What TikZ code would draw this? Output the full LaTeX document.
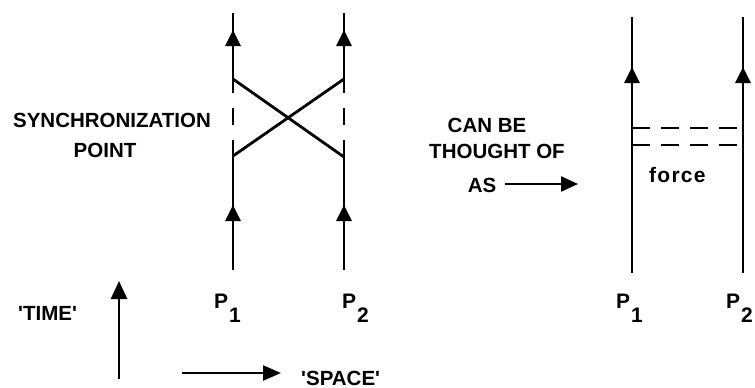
\documentclass[tikz,border=0pt]{standalone}
\usepackage{fontspec}
\setmainfont{Liberation Sans}
\usetikzlibrary{arrows.meta}
\begin{document}
\begin{tikzpicture}[x=1pt,y=-1pt,
  wl/.style={line width=2.8pt},
  tipup/.style={line width=2.8pt,-{Triangle[length=16pt,width=15pt]}},
  dsh/.style={line width=2.6pt,dash pattern=on 18pt off 11pt},
  lbl/.style={inner sep=0pt,font=\fontsize{20.5}{24}\selectfont\bfseries},
  plbl/.style={inner sep=0pt,anchor=base west,font=\fontsize{21}{24}\selectfont\bfseries}]
\useasboundingbox (0,0) rectangle (755,388);
% ---------- left diagram ----------
\foreach \n/\x in {a/233,b/344}{
  \coordinate (\n top) at (\x,13);
  \coordinate (\n hi) at (\x,93);
  \coordinate (\n dA) at (\x,108);
  \coordinate (\n dB) at (\x,125);
  \coordinate (\n lo) at (\x,140);
  \coordinate (\n bot) at (\x,270);
  \coordinate (\n ta) at (\x,47);
  \coordinate (\n tb) at (\x,30);
  \coordinate (\n ba) at (\x,222);
  \coordinate (\n bb) at (\x,205);
  \draw[wl] (\n top) -- (\n hi);
  \draw[wl] (\n dA) -- (\n dB);
  \draw[wl] (\n lo) -- (\n bot);
  \draw[tipup] (\n ta) -- (\n tb);
  \draw[tipup] (\n ba) -- (\n bb);
}
\coordinate (x1) at (233,79);
\coordinate (x2) at (344,157);
\coordinate (x3) at (233,156);
\coordinate (x4) at (344,79);
\draw[wl] (x1) -- (x2);
\draw[wl] (x3) -- (x4);
\node[plbl] (p1) at (214,308) {P\kern1pt\raisebox{-14pt}{1}};
\node[plbl] (p2) at (342,308) {P\kern1pt\raisebox{-14pt}{2}};
\node[lbl,anchor=base] (sync) at (112,127) {SYNCHRONIZATION};
\node[lbl,anchor=base] (point) at (105,157) {POINT};
% ---------- can be thought of as ----------
\node[lbl,anchor=base] (can) at (487,132) {CAN BE};
\node[lbl,anchor=base] (thought) at (497,158) {THOUGHT OF};
\node[lbl,anchor=base] (as) at (482,192) {AS};
\coordinate (asA) at (505,184);
\coordinate (asB) at (578,184);
\draw[line width=2.4pt,-{Triangle[length=17pt,width=15pt]}] (asA) -- (asB);
% ---------- right diagram ----------
\foreach \n/\x in {c/632,d/743}{
  \coordinate (\n top) at (\x,17);
  \coordinate (\n bot) at (\x,273);
  \coordinate (\n ta) at (\x,84);
  \coordinate (\n tb) at (\x,67);
  \draw[wl] (\n top) -- (\n bot);
  \draw[tipup] (\n ta) -- (\n tb);
}
\draw[dsh] (632,128) -- (743,128);
\draw[dsh] (632,145) -- (743,145);
\node[lbl,anchor=base west,font=\fontsize{21}{24}\selectfont\bfseries\addfontfeatures{LetterSpace=6}] (force) at (649,182) {force};
\node[plbl] (p3) at (616,308) {P\kern1pt\raisebox{-14pt}{1}};
\node[plbl] (p4) at (726,308) {P\kern1pt\raisebox{-14pt}{2}};
% ---------- axes ----------
\coordinate (tA) at (119,379);
\coordinate (tB) at (119,281);
\draw[line width=2.8pt,-{Triangle[length=18pt,width=16pt]}] (tA) -- (tB);
\node[lbl,anchor=base west] (time) at (18,320) {\textquotesingle TIME\textquotesingle};
\coordinate (sA) at (182,373);
\coordinate (sB) at (281,373);
\draw[line width=2.4pt,-{Triangle[length=18pt,width=15pt]}] (sA) -- (sB);
\node[lbl,anchor=base west] (space) at (301,385) {\textquotesingle SPACE\textquotesingle};
\end{tikzpicture}
\end{document}
